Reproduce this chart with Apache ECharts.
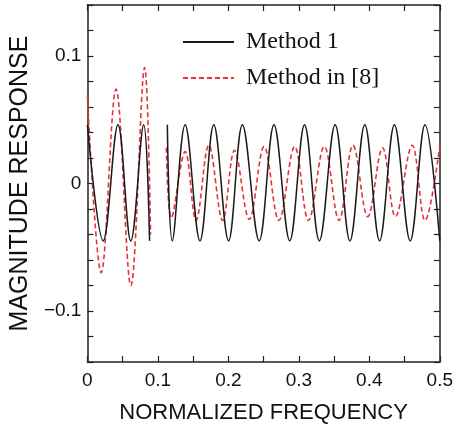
<!DOCTYPE html>
<html>
<head>
<meta charset="utf-8">
<script src="https://cdn.jsdelivr.net/npm/echarts@6/dist/echarts.min.js"></script>
<style>
html,body{margin:0;padding:0;background:#fff;}
#c{width:456px;height:429px;}
</style>
</head>
<body>
<div id="c"></div>
<script>
// ---- data ----
const seriesNames = ['Method 1', 'Method in [8]'];

// Method 1 (solid black): extrema positions, null = gap
const method1X = [0, 0.0224, 0.0434, 0.0616, 0.0798, 0.0882, 0.100,
  0.1134, 0.1204, 0.1387, 0.1597, 0.1793, 0.2003, 0.2199, 0.2437, 0.2647, 0.2871,
  0.3081, 0.3291, 0.3515, 0.3725, 0.3936, 0.4146, 0.4356, 0.4580, 0.4790, 0.5];
const method1Y = [0.046, -0.045, 0.046, -0.045, 0.046, -0.045, null,
  0.046, -0.045, 0.046, -0.045, 0.046, -0.045, 0.046, -0.045, 0.046, -0.045,
  0.046, -0.045, 0.046, -0.045, 0.046, -0.045, 0.046, -0.045, 0.046, -0.045];

// Method in [8] (dashed red)
const method8X = [0, 0.0196, 0.0406, 0.0616, 0.0812, 0.0896, 0.100,
  0.1120, 0.1190, 0.1387, 0.1541, 0.1723, 0.1919, 0.2087, 0.2297, 0.2507, 0.2717,
  0.2941, 0.3137, 0.3361, 0.3571, 0.3768, 0.3978, 0.4188, 0.4370, 0.4608, 0.4790, 0.5];
const method8Y = [0.069, -0.070, 0.074, -0.080, 0.091, -0.040, null,
  0.028, -0.027, 0.025, -0.029, 0.030, -0.029, 0.026, -0.028, 0.029, -0.029,
  0.029, -0.029, 0.029, -0.029, 0.030, -0.026, 0.028, -0.026, 0.030, -0.029, 0.030];

const xTickLabels = [0, 0.1, 0.2, 0.3, 0.4, 0.5];
const yTickLabels = [-0.1, 0, 0.1];

// ---- build ----
function pairs(xs, ys) {
  return xs.map((x, i) => [x, ys[i] === null ? '-' : ys[i]]);
}
function fmt(v) {
  if (Math.abs(v) < 1e-9) return '0';
  const s = Math.abs(v).toFixed(1);
  return v < 0 ? '\u2212' + s : s;
}
function near(v, list) { return list.some(t => Math.abs(v - t) < 1e-6); }

const axisCol = '#222';
const sans = 'Liberation Sans, Arial, sans-serif';
const chart = echarts.init(document.getElementById('c'), null, {renderer: 'canvas'});

const baseX = {
  type: 'value', min: 0, max: 0.5, interval: 0.05,
  axisLine: {show: true, onZero: false, lineStyle: {color: axisCol, width: 1.5}},
  axisTick: {show: true, inside: true, length: 6, lineStyle: {color: axisCol, width: 1.2}},
  splitLine: {show: false}
};
const baseY = {
  type: 'value', min: -0.14, max: 0.14, interval: 0.02,
  axisLine: {show: true, onZero: false, lineStyle: {color: axisCol, width: 1.5}},
  axisTick: {show: true, inside: true, length: 6, lineStyle: {color: axisCol, width: 1.2}},
  splitLine: {show: false}
};

chart.setOption({
  animation: false,
  backgroundColor: '#fff',
  grid: {left: 83, right: 16, top: 5, bottom: 65, containLabel: false},
  legend: {
    orient: 'vertical', left: 182, top: 27, padding: 0,
    itemWidth: 51, itemHeight: 14, itemGap: 6,
    data: seriesNames,
    itemStyle: {opacity: 0},
    textStyle: {fontFamily: 'Liberation Serif, Times New Roman, serif', fontSize: 24,
      color: '#111', lineHeight: 30, padding: [0, 0, 0, 7]}
  },
  xAxis: [
    Object.assign({}, baseX, {
      position: 'bottom',
      name: 'NORMALIZED FREQUENCY', nameLocation: 'middle', nameGap: 40,
      nameTextStyle: {fontFamily: sans, fontSize: 22, color: '#111'},
      axisLabel: {show: true, margin: 9, fontFamily: sans, fontSize: 19, color: '#111',
        formatter: v => near(v, xTickLabels) ? fmt(v) : ''}
    }),
    Object.assign({}, baseX, {position: 'top', axisLabel: {show: false}})
  ],
  yAxis: [
    Object.assign({}, baseY, {
      position: 'left',
      name: 'MAGNITUDE RESPONSE', nameLocation: 'middle', nameGap: 48,
      nameTextStyle: {fontFamily: sans, fontSize: 25, color: '#111'},
      axisLabel: {show: true, margin: 6, fontFamily: sans, fontSize: 19, color: '#111',
        formatter: v => near(v, yTickLabels) ? fmt(v) : ''}
    }),
    Object.assign({}, baseY, {position: 'right', axisLabel: {show: false}})
  ],
  series: [
    {
      name: seriesNames[0], type: 'line', xAxisIndex: 0, yAxisIndex: 0,
      data: pairs(method1X, method1Y),
      symbol: 'none', smooth: 0.37, connectNulls: false,
      lineStyle: {color: '#1a1a1a', width: 1.5, type: 'solid'},
      itemStyle: {color: '#1a1a1a'}, z: 3
    },
    {
      name: seriesNames[1], type: 'line', xAxisIndex: 0, yAxisIndex: 0,
      data: pairs(method8X, method8Y),
      symbol: 'none', smooth: 0.37, connectNulls: false,
      lineStyle: {color: '#e5323e', width: 1.6, type: [5, 3]},
      itemStyle: {color: '#e5323e'}, z: 2
    }
  ]
});
</script>
</body>
</html>
